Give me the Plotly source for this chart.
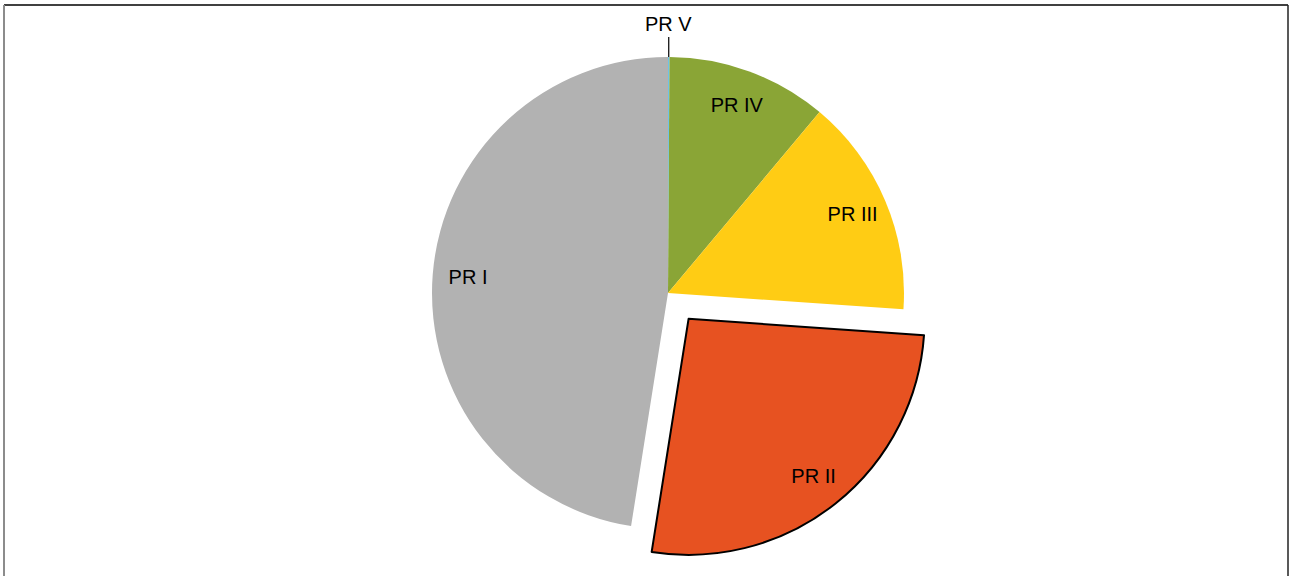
import math
import plotly.graph_objects as go

labels = ["PR V", "PR IV", "PR III", "PR II", "PR I"]
values = [0.1, 11.0, 15.0, 26.4, 47.5]
colors = ["#6FC3E6", "#8AA536", "#FFCC14", "#E75221", "#B2B2B2"]
pulls = [0, 0, 0, 0.14, 0]

W, H = 1290, 576
cx, cy, r = 668, 293, 236
half = r * (1 + max(pulls))
domain = dict(x=[(cx - half) / W, (cx + half) / W],
              y=[1 - (cy + half) / H, 1 - (cy - half) / H])
font = dict(family="Liberation Sans, Arial, sans-serif", size=20, color="black")

# coloured slices
fig = go.Figure(go.Pie(
    labels=labels, values=values, sort=False, direction="clockwise", rotation=0,
    pull=pulls, automargin=False,
    marker=dict(colors=colors, line=dict(color="black", width=[0, 0, 0, 2, 0])),
    textinfo="none", showlegend=False, hoverinfo="label+percent",
    domain=domain,
))

# transparent ring on top: puts the labels out near the rim, like Excel does
fig.add_trace(go.Pie(
    labels=labels, values=values, sort=False, direction="clockwise", rotation=0,
    pull=pulls, automargin=False, hole=0.7,
    marker=dict(colors=["rgba(0,0,0,0)"] * len(labels), line=dict(width=0)),
    text=[""] + labels[1:], textinfo="text", textposition="inside",
    insidetextorientation="horizontal", textfont=font,
    showlegend=False, hoverinfo="skip",
    domain=domain,
))

# PR V is too thin for an inside label: leader line above the slice
ang = math.radians(360 * values[0] / sum(values) / 2)
fig.add_annotation(
    x=(cx + r * math.sin(ang)) / W, y=1 - (cy - r * math.cos(ang)) / H,
    xref="paper", yref="paper", text=labels[0], font=font,
    showarrow=True, arrowhead=0, arrowwidth=1.2, arrowcolor="black",
    ax=0, ay=-20, yanchor="bottom", standoff=0,
)

# frame
fig.add_shape(type="line", xref="paper", yref="paper", x0=4 / W, x1=1288 / W,
              y0=1 - 5 / H, y1=1 - 5 / H, line=dict(color="black", width=1.5))
fig.add_shape(type="line", xref="paper", yref="paper", x0=4 / W, x1=4 / W,
              y0=1 - 5 / H, y1=-0.01, line=dict(color="#8c8c8c", width=2))
fig.add_shape(type="line", xref="paper", yref="paper", x0=1288 / W, x1=1288 / W,
              y0=1 - 5 / H, y1=-0.01, line=dict(color="#222222", width=1.5))

fig.update_layout(width=W, height=H, margin=dict(l=0, r=0, t=0, b=0),
                  paper_bgcolor="white", plot_bgcolor="white",
                  uniformtext=dict(minsize=20, mode="show"))
fig.write_html("out.html", config={"displayModeBar": False},
               post_script="document.body.style.margin = '0';")
